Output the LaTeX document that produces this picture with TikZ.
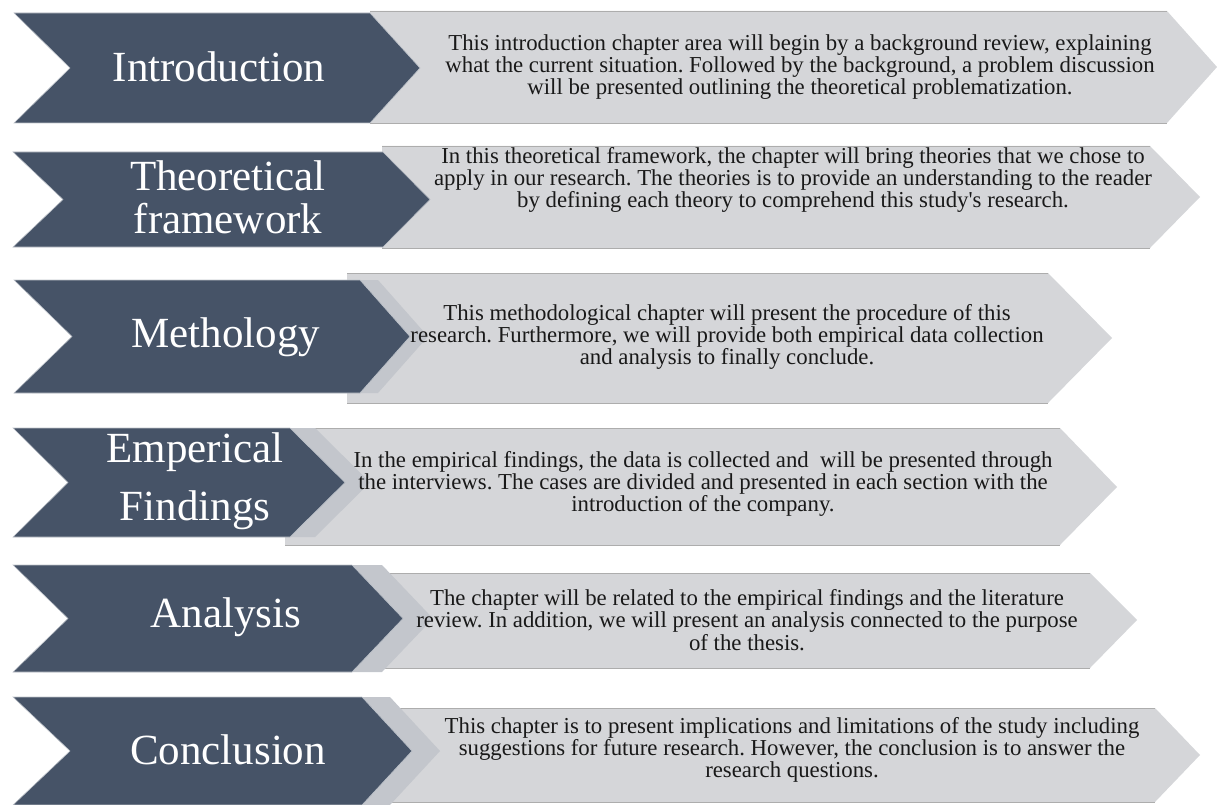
\documentclass[tikz,border=0pt]{standalone}
\usepackage{fontspec}
\setmainfont{Liberation Serif}
\frenchspacing

\definecolor{slate}{HTML}{465367}
\definecolor{panel}{HTML}{D5D6D9}
\definecolor{panelline}{HTML}{ADADAD}
\definecolor{bevel}{HTML}{C3C6CC}

\tikzset{
  chev/.style={fill=slate, draw=slate!35, line width=0.6pt, line join=miter},
  plate/.style={fill=panel},
  plateedge/.style={draw=panelline, line width=0.9pt},
  bevelband/.style={fill=bevel},
  headtext/.style={text=white, font=\fontsize{43}{43}\selectfont, align=center, inner sep=0pt},
  bodytext/.style={text=black!90, font=\fontsize{22.8}{22.3}\selectfont, align=center, inner sep=0pt},
}

\begin{document}
\begin{tikzpicture}[x=1pt, y=-1pt]
\useasboundingbox (0,0) rectangle (1217,805);

% ---- Introduction
\path[plate] (370,11) -- (1167,11) -- (1217,67) -- (1167,123) -- (370,123) -- cycle;
\draw[plateedge] (370,11) -- (1167,11) (370,123) -- (1167,123);
\path[chev] (14,13) -- (370,13) -- (420,68) -- (370,123) -- (14,123) -- (70,68) -- cycle;
\node[headtext] (t1) at (219,67) {Introduction};
\node[bodytext] (d1) at (800,67) {This introduction chapter area will begin by a background review, explaining\\
what the current situation. Followed by the background, a problem discussion\\
will be presented outlining the theoretical problematization.};

% ---- Theoretical framework
\path[plate] (382,146) -- (1150,146) -- (1200,197) -- (1150,248) -- (382,248) -- cycle;
\draw[plateedge] (382,146) -- (1150,146) (382,248) -- (1150,248);
\path[chev] (13,152) -- (383,152) -- (430,199.5) -- (383,247) -- (13,247) -- (63,199.5) -- cycle;
\node[headtext] (t2) at (228,197) {Theoretical\\framework};
\node[bodytext] (d2) at (793,180) {In this theoretical framework, the chapter will bring theories that we chose to\\
apply in our research. The theories is to provide an understanding to the reader\\
by defining each theory to comprehend this study\textquotesingle s research.};

% ---- Methology
\path[plate] (347,273) -- (1048,273) -- (1112,338) -- (1048,403) -- (347,403) -- cycle;
\draw[plateedge] (347,273) -- (1048,273) (347,403) -- (1048,403);
\path[bevelband] (32,280) -- (378,280) -- (428,336.5) -- (378,393) -- (32,393) -- (90,336.5) -- cycle;
\path[chev] (14,280) -- (360,280) -- (410,336.5) -- (360,393) -- (14,393) -- (72,336.5) -- cycle;
\node[headtext] (t3) at (226,337) {Methology};
\node[bodytext] (d3) at (727,337) {This methodological chapter will present the procedure of this\\
research. Furthermore, we will provide both empirical data collection\\
and analysis to finally conclude.};

% ---- Emperical Findings
\path[plate] (285,428) -- (1060,428) -- (1117,487) -- (1060,545) -- (285,545) -- cycle;
\draw[plateedge] (285,428) -- (1060,428) (285,545) -- (1060,545);
\path[bevelband] (38,428) -- (315,428) -- (370,482.5) -- (315,537) -- (38,537) -- (93,482.5) -- cycle;
\path[chev] (13,428) -- (290,428) -- (345,482.5) -- (290,537) -- (13,537) -- (68,482.5) -- cycle;
\node[headtext, font=\fontsize{43}{58}\selectfont] (t4) at (195,481) {Emperical\\Findings};
\node[bodytext] (d4) at (703,484) {In the empirical findings, the data is collected and\ \ will be presented through\\
the interviews. The cases are divided and presented in each section with the\\
introduction of the company.};

% ---- Analysis
\path[plate] (358,573) -- (1090,573) -- (1137,620) -- (1090,668) -- (358,668) -- cycle;
\draw[plateedge] (358,573) -- (1090,573) (358,668) -- (1090,668);
\path[bevelband] (43,565) -- (382,565) -- (433,618.5) -- (382,672) -- (43,672) -- (98,618.5) -- cycle;
\path[chev] (13,565) -- (352,565) -- (403,618.5) -- (352,672) -- (13,672) -- (68,618.5) -- cycle;
\node[headtext] (t5) at (226,617) {Analysis};
\node[bodytext] (d5) at (747,620) {The chapter will be related to the empirical findings and the literature\\
review. In addition, we will present an analysis connected to the purpose\\
of the thesis.};

% ---- Conclusion
\path[plate] (367,708) -- (1155,708) -- (1200,755) -- (1155,802) -- (367,802) -- cycle;
\draw[plateedge] (367,708) -- (1155,708) (367,802) -- (1155,802);
\path[bevelband] (41,697) -- (390,697) -- (440,751) -- (390,805) -- (41,805) -- (98,751) -- cycle;
\path[chev] (13,697) -- (362,697) -- (412,751) -- (362,805) -- (13,805) -- (70,751) -- cycle;
\node[headtext] (t6) at (228,750) {Conclusion};
\node[bodytext] (d6) at (792,750) {This chapter is to present implications and limitations of the study including\\
suggestions for future research. However, the conclusion is to answer the\\
research questions.};
\end{tikzpicture}
\end{document}
